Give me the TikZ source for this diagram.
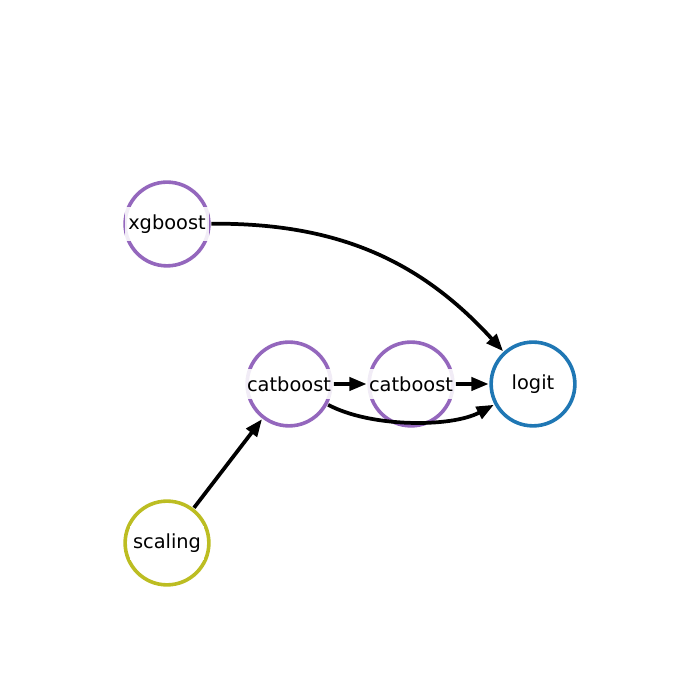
\documentclass[tikz,border=0pt]{standalone}
\usepackage{fontspec}
\setmainfont{DejaVu Sans}
\usepackage{tikz}
\usetikzlibrary{arrows.meta}
\definecolor{tabpurple}{HTML}{9467BD}
\definecolor{tabblue}{HTML}{1F77B4}
\definecolor{tabolive}{HTML}{BCBD22}
\tikzset{>={Triangle[length=12.5pt,width=9.5pt]},
  step node/.style={circle,draw=#1,line width=2.6pt,minimum size=60.5pt,inner sep=0pt,outer sep=1.8pt,fill=white},
  step label/.style={fill=white,fill opacity=0.88,text opacity=1,inner xsep=2pt,inner ysep=5.5pt,font=\fontsize{14}{16}\selectfont},
  flow/.style={->,line width=2.7pt}}

\begin{document}
\begin{tikzpicture}[x=0.01in,y=0.01in]
\useasboundingbox (0,0) rectangle (700,700);
\node[step node=tabpurple] (X) at (167,476) {};
\node[step node=tabpurple] (C1) at (289,316) {};
\node[step node=tabpurple] (C2) at (411,316) {};
\node[step node=tabblue] (L) at (533,316) {};
\node[step node=tabolive] (S) at (167,157) {};
\path[flow] (X) edge[bend left=24] (L);
\path[flow] (C1) edge[bend right=28,looseness=0.75] (L);
\path[flow] (S) edge (C1);
\path[flow] (C1) edge (C2);
\path[flow] (C2) edge (L);
\node[step label] at (X) {xgboost};
\node[step label] at (C1) {catboost};
\node[step label] at (C2) {catboost};
\node[step label] at (L) {logit};
\node[step label] at (S) {scaling};
\end{tikzpicture}
\end{document}
